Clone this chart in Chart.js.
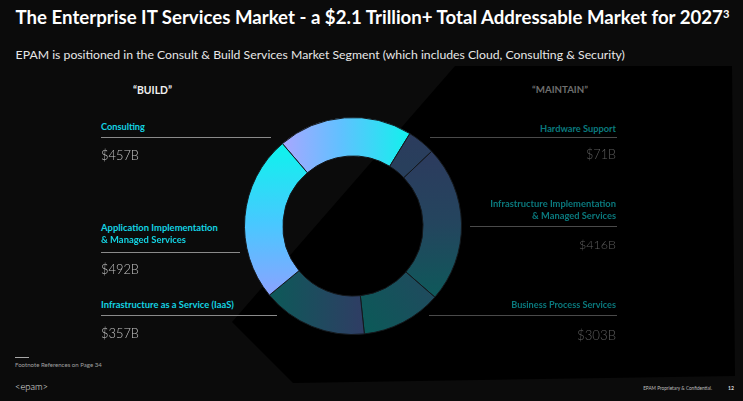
<!DOCTYPE html>
<html>
<head>
<meta charset="utf-8">
<script src="https://cdn.jsdelivr.net/npm/chart.js@4/dist/chart.umd.min.js"></script>
<style>
html,body{margin:0;padding:0;background:#0b0b0b;width:743px;height:401px;overflow:hidden;font-family:Lato,"Open Sans",sans-serif;}
#stage{position:relative;width:743px;height:401px;overflow:hidden;}
#bgpoly{position:absolute;left:0;top:0;width:743px;height:401px;background:#000;
  clip-path:polygon(455px 66px,732px 66px,735px 376px,293px 383px,232px 322px);}
.t{position:absolute;white-space:nowrap;line-height:1;}
.t sup{font-size:0.6em;vertical-align:0.55em;line-height:0;}
.rule{position:absolute;height:1px;}
#chartBox{position:absolute;left:241px;top:114px;width:224px;height:224px;}
</style>
</head>
<body>
<div id="stage">
  <div id="bgpoly"></div>
  <div id="chartBox"><canvas id="c" width="224" height="224"></canvas></div>
</div>
<script>
// ---------------- DATA ----------------
const categories = [
  "Consulting",
  "Hardware Support",
  "Infrastructure Implementation & Managed Services",
  "Business Process Services",
  "Infrastructure as a Service (IaaS)",
  "Application Implementation & Managed Services"
];
const categoryLines = [
  ["Consulting"],
  ["Hardware Support"],
  ["Infrastructure Implementation", "& Managed Services"],
  ["Business Process Services"],
  ["Infrastructure as a Service (IaaS)"],
  ["Application Implementation", "& Managed Services"]
];
const marketValuesB = [457, 71, 416, 303, 357, 492];       // labelled market size, $B
const sliceDegrees = [72.2, 14.9, 84.5, 43.0, 56.4, 89.0];  // ring share as drawn in the picture
const segmentGroup = ["BUILD", "MAINTAIN", "MAINTAIN", "MAINTAIN", "BUILD", "BUILD"];
const groupTitles = ["\u201cBUILD\u201d", "\u201cMAINTAIN\u201d"];
const titleText = "The Enterprise IT Services Market - a $2.1 Trillion+ Total Addressable Market for 2027";
const titleSup = "3";
const subtitleText = "EPAM is positioned in the Consult & Build Services Market Segment (which includes Cloud, Consulting & Security)";
const footnoteText = "Footnote References on Page 34";
const logoText = "<epam>";
const confidentialText = "EPAM Proprietary & Confidential.";
const pageNumber = "12";

// ---------------- STYLES / LAYOUT ----------------
const gradSpecs = [
  [-72, 0, 58, 0, [[0, "#aaa6ff"], [0.45, "#62c0ff"], [1, "#10f2ec"]]],
  [0, -100, 0, -60, [[0, "#2d3b5e"], [1, "#283f5c"]]],
  [0, -80, 0, 75, [[0, "#2d3a5e"], [0.5, "#24455e"], [1, "#0d5a5a"]]],
  [10, 105, 80, 60, [[0, "#0b5a58"], [1, "#204a5e"]]],
  [-85, 0, 10, 0, [[0, "#0c5a58"], [1, "#2f3d64"]]],
  [0, -75, 0, 70, [[0, "#12f0ee"], [0.5, "#48c8ff"], [1, "#8ca2ff"]]]
];
// per category: anchor x, align, cap-centre y of each label line, label widths, value y, value width, rule
const labelLayout = [
  {x:101, align:"left",  ys:[127], ws:[44], vy:156, vw:38, rule:[101,271,137.5]},
  {x:616, align:"right", ys:[129], ws:[76], vy:156, vw:30, rule:[430,617,137.5]},
  {x:616, align:"right", ys:[204,216], ws:[126,84], vy:246, vw:37, rule:[470,617,226]},
  {x:616, align:"right", ys:[305], ws:[105], vy:336, vw:39, rule:[429,617,315]},
  {x:101, align:"left",  ys:[305], ws:[133], vy:333.5, vw:38, rule:[101,277,315]},
  {x:101, align:"left",  ys:[228,240], ws:[117,85], vy:269.5, vw:38, rule:[101,240,252]}
];
const groupStyle = {
  BUILD:    {label:"#14d4e4", value:"#c4c4c4", rule:"#8a8a8a", head:"#f0f0f0", hx:152.5, hw:39},
  MAINTAIN: {label:"#0a7a7e", value:"#5e5e5e", rule:"#4a4a4a", head:"#6e6e6e", hx:560, hw:56}
};

const stage = document.getElementById("stage");
function txt(str, x, cy, fs, w, o) {
  o = o || {};
  const el = document.createElement("div");
  el.className = "t";
  el.style.fontSize = fs + "px";
  el.style.fontWeight = o.weight || 400;
  el.style.color = o.color || "#fff";
  if (o.sup) { el.textContent = str; const s = document.createElement("sup"); s.textContent = o.sup; el.appendChild(s); }
  else el.textContent = str;
  el.style.left = "0px"; el.style.top = "0px";
  stage.appendChild(el);
  let width = el.getBoundingClientRect().width;
  if (w) { fs = fs * w / width; el.style.fontSize = fs + "px"; width = el.getBoundingClientRect().width; }
  const align = o.align || "left";
  let left = x;
  if (align === "right") left = x - width;
  if (align === "center") left = x - width / 2;
  el.style.left = left + "px";
  el.style.top = (cy - 0.53 * fs) + "px";
  return el;
}
function rule(x1, x2, y, color) {
  const r = document.createElement("div");
  r.className = "rule";
  r.style.left = x1 + "px"; r.style.width = (x2 - x1) + "px";
  r.style.top = (y - 0.5) + "px"; r.style.background = color;
  stage.appendChild(r);
}

// headings
txt(titleText, 15.6, 18, 20, 714, {weight:700, color:"#ffffff", sup:titleSup});
txt(subtitleText, 15.6, 55, 13, 610, {weight:400, color:"#e8e8e8"});
txt(groupTitles[0], groupStyle.BUILD.hx, 90.5, 10, groupStyle.BUILD.hw, {weight:700, color:groupStyle.BUILD.head, align:"center"});
txt(groupTitles[1], groupStyle.MAINTAIN.hx, 90.5, 10, groupStyle.MAINTAIN.hw, {weight:700, color:groupStyle.MAINTAIN.head, align:"center"});

// category labels, values, rules
categories.forEach((cat, i) => {
  const L = labelLayout[i], st = groupStyle[segmentGroup[i]];
  categoryLines[i].forEach((line, k) => {
    txt(line, L.x, L.ys[k], 10, L.ws[k], {weight:700, color:st.label, align:L.align});
  });
  rule(L.rule[0], L.rule[1], L.rule[2], st.rule);
  txt("$" + marketValuesB[i] + "B", L.x, L.vy, 14, L.vw, {weight:300, color:st.value, align:L.align});
});

// footer
rule(15, 29, 357, "#a8a8a8");
txt(footnoteText, 15, 365, 6, 87, {color:"#a0a0a0"});
txt(logoText, 15, 387, 12, 33, {weight:300, color:"#e6e6e6"});
txt(confidentialText, 712, 388.5, 5.5, 69, {color:"#bdbdbd", align:"right"});
txt(pageNumber, 734, 388.5, 6, 6, {weight:700, color:"#d8d8d8", align:"right"});

// ---------------- CHART ----------------
function sliceFill(c) {
  const chart = c.chart, a = chart.chartArea;
  if (!a) return "#2c3a5c";
  const cx = (a.left + a.right) / 2, cy = (a.top + a.bottom) / 2;
  const g = gradSpecs[c.dataIndex];
  const gr = chart.ctx.createLinearGradient(cx + g[0], cy + g[1], cx + g[2], cy + g[3]);
  g[4].forEach(s => gr.addColorStop(s[0], s[1]));
  return gr;
}
new Chart(document.getElementById("c"), {
  type: "doughnut",
  data: {
    labels: categories,
    datasets: [{
      data: sliceDegrees,
      backgroundColor: sliceFill,
      borderColor: "#14181c",
      borderWidth: 1,
      hoverOffset: 0
    }]
  },
  options: {
    responsive: false,
    animation: false,
    events: [],
    rotation: -40.6,
    radius: 108.5,
    cutout: 72,
    layout: {padding: 0},
    plugins: {legend: {display: false}, tooltip: {enabled: false}}
  }
});
</script>
</body>
</html>
